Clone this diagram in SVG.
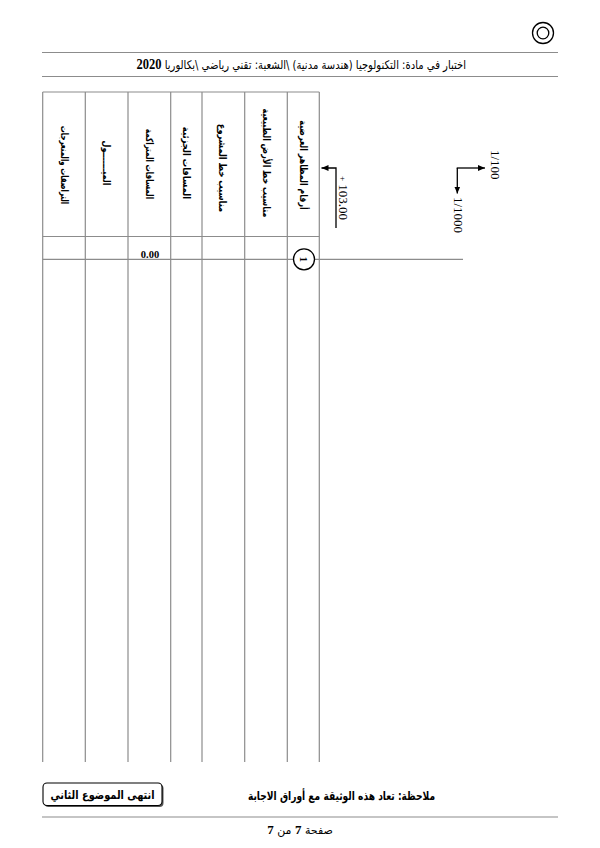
<svg xmlns="http://www.w3.org/2000/svg" width="600" height="848" viewBox="0 0 600 848">
<style>
.rule{stroke:#8c8c8c;stroke-width:1.2;fill:none}
.grid{stroke:#8c8c8c;stroke-width:1.2;fill:none}
.ar{font-family:"DejaVu Sans","Noto Sans",sans-serif;fill:#000}
.hd{font-family:"DejaVu Sans",sans-serif;font-weight:bold;font-size:10px;fill:#000;text-anchor:middle;dominant-baseline:central;direction:rtl}
.num{font-family:"Liberation Serif","Times New Roman",serif;fill:#000}
.blk{stroke:#000;stroke-width:1.3;fill:none}
</style>
<defs>
<marker id="ah" markerWidth="8" markerHeight="8" refX="7" refY="4" orient="auto" markerUnits="userSpaceOnUse">
<path d="M0,1 L7,4 L0,7 Z" fill="#000"/>
</marker>
</defs>
<rect width="600" height="848" fill="#fff"/>

<g id="logo">
<circle cx="543" cy="33" r="10.5" class="blk" stroke-width="1.6"/>
<circle cx="543" cy="33" r="5.8" class="blk" stroke-width="1.6"/>
</g>

<g id="header">
<line x1="42" y1="52.5" x2="558" y2="52.5" class="rule"/>
<line x1="42" y1="76.5" x2="558" y2="76.5" class="rule"/>
<text transform="translate(466,69) scale(0.835,1)" class="ar" font-size="12" text-anchor="start" direction="rtl">اختبار في مادة: التكنولوجيا (هندسة مدنية)  \الشعبة: تقني رياضي  \بكالوريا <tspan class="num" font-weight="bold" font-size="15">2020</tspan></text>
</g>

<g id="table">
<g id="grid-lines">
<line x1="42.7" y1="92" x2="319.3" y2="92" class="grid"/>
<line x1="42.7" y1="236.5" x2="319.3" y2="236.5" class="grid"/>
<line x1="42.7" y1="259.3" x2="463" y2="259.3" class="grid"/>
<line x1="42.7" y1="92" x2="42.7" y2="762" class="grid"/>
<line x1="85.3" y1="92" x2="85.3" y2="762" class="grid"/>
<line x1="128" y1="92" x2="128" y2="762" class="grid"/>
<line x1="170.7" y1="92" x2="170.7" y2="762" class="grid"/>
<line x1="202" y1="92" x2="202" y2="762" class="grid"/>
<line x1="244.7" y1="92" x2="244.7" y2="762" class="grid"/>
<line x1="287.3" y1="92" x2="287.3" y2="762" class="grid"/>
<line x1="319.3" y1="92" x2="319.3" y2="762" class="grid"/>
</g>
<g id="col-headers">
<text class="hd" transform="translate(64,165) rotate(90) scale(0.7,1)">التراصفات والمنعرجات</text>
<text class="hd" transform="translate(106.7,163) rotate(90) scale(0.79,1)">الميـــــــول</text>
<text class="hd" transform="translate(149.3,164) rotate(90) scale(0.72,1)">المسافات المتراكمة</text>
<text class="hd" transform="translate(186.3,163) rotate(90) scale(0.84,1)">المسافات الجزئية</text>
<text class="hd" transform="translate(223.3,168) rotate(90) scale(0.83,1)">مناسيب خط المشروع</text>
<text class="hd" transform="translate(266,163) rotate(90) scale(0.79,1)">مناسيب خط الأرض الطبيعية</text>
<text class="hd" transform="translate(303.3,165) rotate(90) scale(0.79,1)">أرقام المظاهر العرضية</text>
</g>
<text class="num" x="150" y="257.5" font-size="10.5" font-weight="bold" text-anchor="middle">0.00</text>
<g id="profile-1">
<circle cx="304" cy="259.3" r="10.5" fill="#fff" stroke="#000" stroke-width="1.3"/>
<text class="num" font-size="11" font-weight="bold" text-anchor="middle" dominant-baseline="central" transform="translate(304,259.3) rotate(90)">1</text>
</g>
</g>

<g id="connectors">
<polyline points="336,228 336,168 321.5,168" class="blk" stroke-width="1.2" marker-end="url(#ah)"/>
<polyline points="457.3,168 457.3,193.5" class="blk" stroke-width="1.2" marker-end="url(#ah)"/>
<polyline points="456.7,168 485,168" class="blk" stroke-width="1.2" marker-end="url(#ah)"/>
</g>

<g id="labels">
<text class="num" transform="translate(343,176) rotate(90)" font-size="13" dominant-baseline="central"><tspan font-size="9">+</tspan> 103.00</text>
<text class="num" transform="translate(495,150) rotate(90)" font-size="13" dominant-baseline="central">1/100</text>
<text class="num" transform="translate(458,197) rotate(90)" font-size="13" dominant-baseline="central">1/1000</text>
</g>

<g id="footer">
<rect x="44.5" y="784.5" width="119" height="22.5" rx="4" fill="#555"/>
<rect x="43" y="783" width="119" height="22.5" rx="4" fill="#fff" stroke="#000" stroke-width="1.1"/>
<text transform="translate(102.5,799) scale(0.85,1)" class="ar" font-size="11.5" font-weight="bold" text-anchor="middle" direction="rtl">انتهى الموضوع الثاني</text>
<text transform="translate(341.5,800) scale(0.76,1)" class="ar" font-size="12" font-weight="bold" text-anchor="middle" direction="rtl">ملاحظة: تعاد هذه الوثيقة مع أوراق الاجابة</text>
<line x1="42" y1="817" x2="558" y2="817" class="rule"/>
<text x="300" y="834" class="ar" font-size="11" text-anchor="middle" direction="rtl">صفحة <tspan class="num" font-weight="bold" font-size="13">7</tspan> من <tspan class="num" font-weight="bold" font-size="13">7</tspan></text>
</g>
</svg>
